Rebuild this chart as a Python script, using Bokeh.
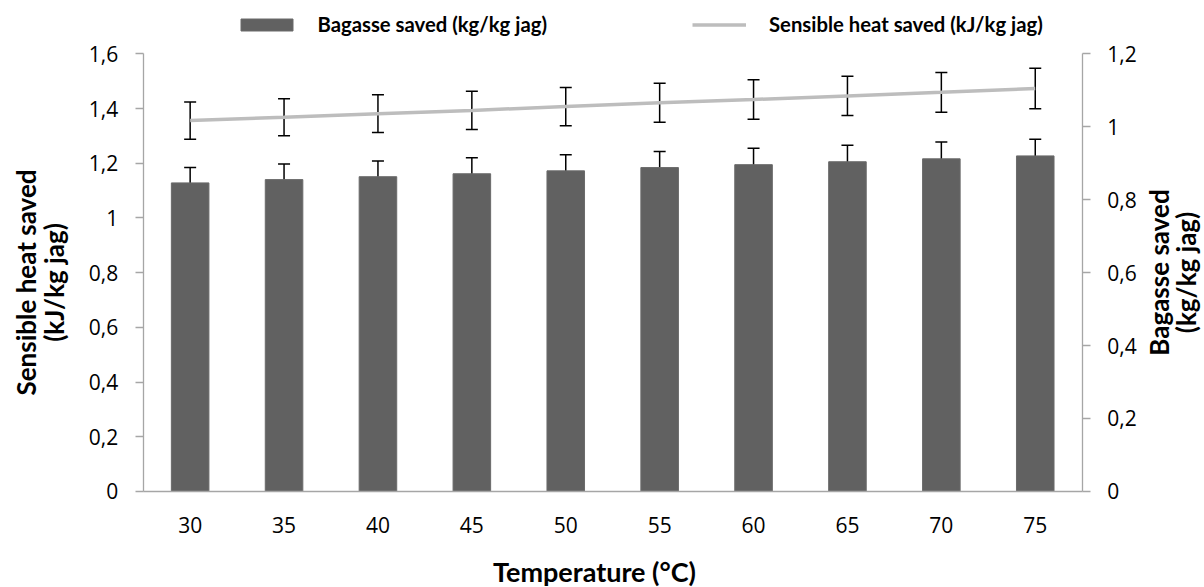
import math
from bokeh.plotting import figure
from bokeh.models import (Range1d, LinearAxis, FixedTicker, ColumnDataSource, Whisker,
                          TeeHead, Legend, LegendItem, Label)
from bokeh.embed import file_html
from bokeh.resources import INLINE

# ---------------- data ----------------
temperatures = ["30", "35", "40", "45", "50", "55", "60", "65", "70", "75"]
bagasse_saved = [0.846, 0.855, 0.863, 0.871, 0.879, 0.888, 0.896, 0.904, 0.912, 0.920]
bagasse_err = [0.042, 0.043, 0.043, 0.044, 0.044, 0.044, 0.045, 0.045, 0.046, 0.046]
sensible_heat_saved = [1.356, 1.368, 1.381, 1.393, 1.407, 1.421, 1.433, 1.446, 1.459, 1.473]
sensible_heat_err = [0.068, 0.068, 0.069, 0.070, 0.070, 0.071, 0.072, 0.072, 0.073, 0.074]

left_ticks = [0, 0.2, 0.4, 0.6, 0.8, 1.0, 1.2, 1.4, 1.6]
left_tick_labels = ["0", "0,2", "0,4", "0,6", "0,8", "1", "1,2", "1,4", "1,6"]
right_ticks = [0, 0.2, 0.4, 0.6, 0.8, 1.0, 1.2]
right_tick_labels = ["0", "0,2", "0,4", "0,6", "0,8", "1", "1,2"]

bar_label = "Bagasse saved (kg/kg jag)"
line_label = "Sensible heat saved (kJ/kg jag)"
x_title = "Temperature (°C)"
left_title = "Sensible heat saved\n(kJ/kg jag)"
right_title = "Bagasse saved\n(kg/kg jag)"

# ---------------- layout constants (pixels on the canvas) ----------------
W, H = 1204, 587
FL, FR, FT, FB = 142.7, 1081.7, 53.3, 490.9      # plot area: left, right, top, bottom
n = len(temperatures)
cw = (FR - FL) / n
x_pos = list(range(n))                            # category slots 0..n-1
first_center = FL + cw / 2
x_start, x_end = (0 - first_center) / cw, (W - first_center) / cw
lmax, rmax = left_ticks[-1], right_ticks[-1]
l_start, l_end = (FB - H) / (FB - FT) * lmax, FB / (FB - FT) * lmax
r_start, r_end = (FB - H) / (FB - FT) * rmax, FB / (FB - FT) * rmax

src = ColumnDataSource(dict(
    x=x_pos,
    bag=bagasse_saved,
    bag_lo=[v - e for v, e in zip(bagasse_saved, bagasse_err)],
    bag_hi=[v + e for v, e in zip(bagasse_saved, bagasse_err)],
    heat=sensible_heat_saved,
    heat_lo=[v - e for v, e in zip(sensible_heat_saved, sensible_heat_err)],
    heat_hi=[v + e for v, e in zip(sensible_heat_saved, sensible_heat_err)],
))

AX = "#a6a6a6"
TICK_FONT = "Open Sans"
BOLD_FONT = "Lato"

p = figure(width=W, height=H, output_backend="svg", toolbar_location=None, title=None,
           x_range=Range1d(x_start, x_end), y_range=Range1d(l_start, l_end),
           x_axis_type=None, y_axis_type=None, min_border=0)
p.extra_y_ranges = {"bag": Range1d(r_start, r_end)}
p.outline_line_color = None
p.background_fill_color = "white"
p.border_fill_color = "white"

# ---------------- axes (fixed inside the canvas) ----------------
left_axis = LinearAxis(fixed_location=x_pos[0] - 0.5, bounds=(0, lmax),
                       ticker=FixedTicker(ticks=left_ticks),
                       major_label_overrides=dict(zip(left_ticks, left_tick_labels)))
right_axis = LinearAxis(y_range_name="bag", fixed_location=x_pos[-1] + 0.5, bounds=(0, rmax),
                        ticker=FixedTicker(ticks=right_ticks),
                        major_label_overrides=dict(zip(right_ticks, right_tick_labels)))
bottom_axis = LinearAxis(fixed_location=0, bounds=(x_pos[0] - 0.5, x_pos[-1] + 0.5),
                         ticker=FixedTicker(ticks=x_pos),
                         major_label_overrides=dict(zip(x_pos, temperatures)))
p.add_layout(left_axis, "left")
p.add_layout(right_axis, "right")
p.add_layout(bottom_axis, "below")

for ax in (left_axis, right_axis, bottom_axis):
    ax.axis_line_color = AX
    ax.axis_line_width = 1.3
    ax.major_tick_line_color = AX
    ax.major_tick_line_width = 1.3
    ax.major_tick_out = 8
    ax.major_tick_in = 0
    ax.minor_tick_out = 0
    ax.minor_tick_in = 0
    ax.major_label_text_font = TICK_FONT
    ax.major_label_text_font_size = "21px"
    ax.major_label_text_color = "black"
    ax.major_label_standoff = 17
bottom_axis.major_tick_out = 0
bottom_axis.major_label_standoff = 26

# ---------------- marks ----------------
bars = p.vbar(x="x", top="bag", width=0.4, source=src, y_range_name="bag",
              fill_color="#616161", line_color="#6a6a6a", line_width=1)
line = p.line(x="x", y="heat", source=src, line_color="#bdbdbd", line_width=3.5)

head = dict(size=12, line_color="black", line_width=1.5)
p.add_layout(Whisker(source=src, base="x", lower="bag_lo", upper="bag_hi",
                     y_range_name="bag", line_color="black", line_width=1.5,
                     lower_head=TeeHead(**head), upper_head=TeeHead(**head)))
p.add_layout(Whisker(source=src, base="x", lower="heat_lo", upper="heat_hi",
                     line_color="black", line_width=1.5,
                     lower_head=TeeHead(**head), upper_head=TeeHead(**head)))

# ---------------- legends ----------------
leg_style = dict(orientation="horizontal", padding=0, margin=0, border_line_alpha=0,
                 background_fill_alpha=0, label_text_font=BOLD_FONT,
                 label_text_font_style="bold", label_text_font_size="20.3px",
                 label_text_color="black", label_height=15, glyph_height=15)
leg1 = Legend(items=[LegendItem(label=bar_label, renderers=[bars])],
              location=(233.5, H - 36), glyph_width=65, label_standoff=19, **leg_style)
leg2 = Legend(items=[LegendItem(label=line_label, renderers=[line])],
              location=(692, H - 36), glyph_width=54, label_standoff=23, **leg_style)
p.add_layout(leg1)
p.add_layout(leg2)

# ---------------- axis titles ----------------
def title_label(text, x, y, angle, size="26px", lh=1.0):
    return Label(text=text, x=x, y=y, x_units="screen", y_units="screen", angle=angle,
                 text_align="center", text_baseline="middle", text_font=BOLD_FONT,
                 text_font_style="bold", text_font_size=size, text_color="black",
                 text_line_height=lh)


p.add_layout(title_label(left_title, 39.5, H - 282, math.pi / 2, lh=0.88))
p.add_layout(title_label(right_title, 1172, H - 272, math.pi / 2, lh=0.85))
p.add_layout(title_label(x_title, 594, H - 571, 0, size="27px"))

open("out.html", "w").write(file_html(p, INLINE))
